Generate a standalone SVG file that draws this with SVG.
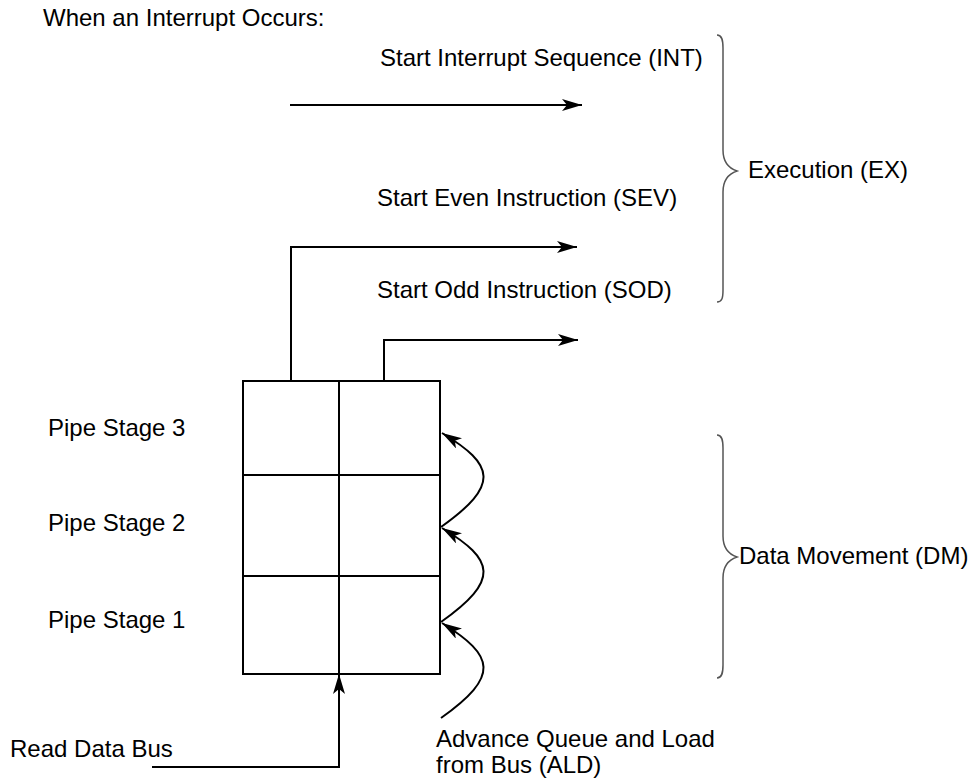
<svg xmlns="http://www.w3.org/2000/svg" width="979" height="782" viewBox="0 0 979 782">
<style>
text{font-family:"Liberation Sans",Arial,sans-serif;font-size:24px;fill:#000}
.ln{fill:none;stroke:#000;stroke-width:2}
.cell{fill:none;stroke:#000;stroke-width:2}
.brace{fill:none;stroke:#555;stroke-width:1.5}
</style>
<defs>
<marker id="ah" markerUnits="userSpaceOnUse" viewBox="0 0 20 12" refX="20" refY="6" markerWidth="20" markerHeight="12" orient="auto">
<path d="M0,0 L20,6 L0,12 L5,6 Z" fill="#000"/>
</marker>
</defs>
<rect width="979" height="782" fill="#fff"/>
<text x="43" y="26">When an Interrupt Occurs:</text>
<g id="labels">
<text x="380" y="66">Start Interrupt Sequence (INT)</text>
<text x="377" y="206">Start Even Instruction (SEV)</text>
<text x="377" y="298">Start Odd Instruction (SOD)</text>
</g>
<g id="queue">
<rect class="cell" x="243" y="381" width="197" height="293"/>
<line class="cell" x1="339" y1="381" x2="339" y2="674"/>
<line class="cell" x1="243" y1="475" x2="440" y2="475"/>
<line class="cell" x1="243" y1="576" x2="440" y2="576"/>
</g>
<g id="stages">
<text x="48" y="436">Pipe Stage 3</text>
<text x="48" y="531">Pipe Stage 2</text>
<text x="48" y="628">Pipe Stage 1</text>
</g>
<g id="read-data-bus">
<text x="10" y="757">Read Data Bus</text>
</g>
<g id="ald">
<text x="436" y="747">Advance Queue and Load</text>
<text x="436" y="773">from Bus (ALD)</text>
</g>
<g id="ex">
<path class="brace" d="M717,35 C722,35 723,40 723,48 L723,150 C723,162 728,168 737,171 C728,174 723,180 723,192 L723,290 C723,298 722,302 717,302"/>
<text x="748" y="178">Execution (EX)</text>
</g>
<g id="dm">
<path class="brace" d="M717,435 C722,435 723,440 723,448 L723,536 C723,548 728,554 737,557 C728,560 723,566 723,578 L723,665 C723,673 722,678 717,678"/>
<text x="739" y="564">Data Movement (DM)</text>
</g>
<g id="connectors">
<path class="ln" d="M290,105 L582,105" marker-end="url(#ah)"/>
<path class="ln" d="M291,381 L291,247 L577,247" marker-end="url(#ah)"/>
<path class="ln" d="M384,381 L384,340 L578,340" marker-end="url(#ah)"/>
<path class="ln" d="M152,767 L339,767 L339,674" marker-end="url(#ah)"/>
<path class="ln" d="M441,718 C500,676 495,656 442,623" marker-end="url(#ah)"/>
<path class="ln" d="M441,622 C500,580 495,560 442,528" marker-end="url(#ah)"/>
<path class="ln" d="M441,527 C500,485 495,465 442,433" marker-end="url(#ah)"/>
</g>
</svg>
